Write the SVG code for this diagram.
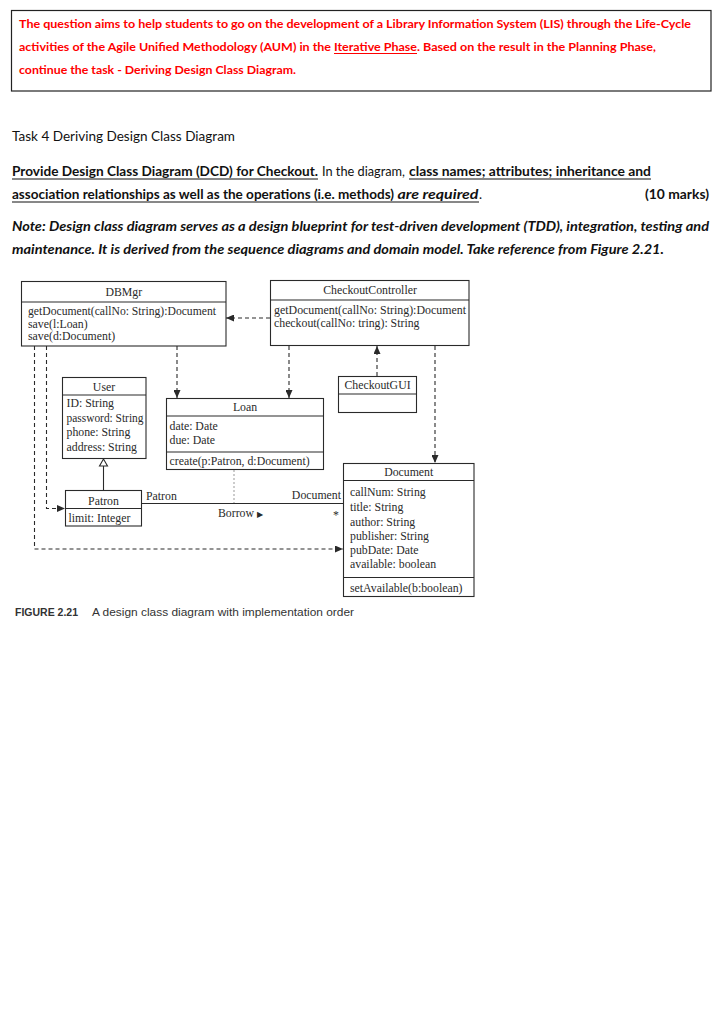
<svg xmlns="http://www.w3.org/2000/svg" width="724" height="1024" viewBox="0 0 724 1024">
<defs>
<marker id="arr" markerWidth="8" markerHeight="7" refX="8" refY="3.5" orient="auto" markerUnits="userSpaceOnUse"><path d="M0,0 L8,3.5 L0,7 z" fill="#2a2a2a"/></marker>
<style>
.red{font-family:Lato,"Liberation Sans",sans-serif;font-weight:bold;font-size:11.5px;fill:#f00}
.body{font-family:Lato,"Liberation Sans",sans-serif;font-size:13px;fill:#111}
.b{font-weight:bold}
.bi{font-weight:bold;font-style:italic}
.cls{font-family:"Liberation Serif","Times New Roman",serif;font-size:11.8px;fill:#2a2a2a}
.cap{font-family:"Liberation Sans",Arial,sans-serif;font-size:11px;fill:#333}
.box{fill:#fff;stroke:#2a2a2a;stroke-width:1.1}
.ln{fill:none;stroke:#2a2a2a;stroke-width:1.1}
.dash{fill:none;stroke:#2a2a2a;stroke-width:1.1;stroke-dasharray:4 3}
.ul{stroke:#111;stroke-width:1}
.ulr{stroke:#f00;stroke-width:1}
</style>
</defs>
<rect width="724" height="1024" fill="#fff"/>

<g id="intro-box">
<rect x="11.5" y="10.5" width="699.5" height="80.5" fill="none" stroke="#222" stroke-width="1.2"/>
<text class="red" x="19" y="27.5" textLength="672" lengthAdjust="spacingAndGlyphs">The question aims to help students to go on the development of a Library Information System (LIS) through the Life-Cycle</text>
<text class="red" x="19" y="50.5" textLength="312" lengthAdjust="spacingAndGlyphs">activities of the Agile Unified Methodology (AUM) in the</text>
<text class="red" x="334" y="50.5" textLength="83" lengthAdjust="spacingAndGlyphs">Iterative Phase</text>
<text class="red" x="417" y="50.5" textLength="239" lengthAdjust="spacingAndGlyphs">. Based on the result in the Planning Phase,</text>
<line class="ulr" x1="334" y1="53.5" x2="417" y2="53.5"/>
<text class="red" x="19" y="74" textLength="277" lengthAdjust="spacingAndGlyphs">continue the task - Deriving Design Class Diagram.</text>
</g>

<g id="task-text">
<text class="body" x="12" y="141" textLength="223" lengthAdjust="spacingAndGlyphs">Task 4 Deriving Design Class Diagram</text>
<text class="body b" x="12" y="176" textLength="306" lengthAdjust="spacingAndGlyphs">Provide Design Class Diagram (DCD) for Checkout.</text>
<line class="ul" x1="12" y1="179" x2="318" y2="179"/>
<text class="body" x="322" y="176" textLength="83" lengthAdjust="spacingAndGlyphs">In the diagram,</text>
<text class="body b" x="409" y="176" textLength="242" lengthAdjust="spacingAndGlyphs">class names; attributes; inheritance and</text>
<line class="ul" x1="409" y1="179" x2="651" y2="179"/>
<text class="body b" x="12" y="199" textLength="382" lengthAdjust="spacingAndGlyphs">association relationships as well as the operations (i.e. methods)</text>
<text class="body bi" x="397.5" y="199" textLength="81" lengthAdjust="spacingAndGlyphs">are required</text>
<line class="ul" x1="12" y1="202" x2="479" y2="202"/>
<text class="body" x="479" y="199">.</text>
<text class="body b" x="645" y="199" textLength="64" lengthAdjust="spacingAndGlyphs">(10 marks)</text>
<text class="body bi" x="12" y="231" textLength="697" lengthAdjust="spacingAndGlyphs">Note: Design class diagram serves as a design blueprint for test-driven development (TDD), integration, testing and</text>
<text class="body bi" x="12" y="254" textLength="652" lengthAdjust="spacingAndGlyphs">maintenance. It is derived from the sequence diagrams and domain model. Take reference from Figure 2.21.</text>
</g>

<g id="connectors">
<path class="dash" d="M34.5,346 V549 H343" marker-end="url(#arr)"/>
<path class="dash" d="M46.5,346 V508.5 H65" marker-end="url(#arr)"/>
<path class="dash" d="M177,346 V398" marker-end="url(#arr)"/>
<path class="dash" d="M289,346 V398" marker-end="url(#arr)"/>
<path class="dash" d="M377,376 V346" marker-end="url(#arr)"/>
<path class="dash" d="M435,346 V463" marker-end="url(#arr)"/>
<path class="dash" d="M270,318 H226" marker-end="url(#arr)"/>
<path class="ln" d="M103.5,466 V490.5"/>
<polygon points="103.5,459 99.5,466 107.5,466" fill="#fff" stroke="#2a2a2a" stroke-width="1.1"/>
<path class="ln" d="M141.5,503.5 H343.5"/>
<path d="M234,470 V503" stroke="#999" stroke-width="1" stroke-dasharray="2 2" fill="none"/>
<text class="cls" x="146" y="499.5">Patron</text>
<text class="cls" x="341" y="499" text-anchor="end">Document</text>
<text class="cls" x="218" y="517">Borrow <tspan font-family="DejaVu Sans" font-size="8">▶</tspan></text>
<text class="cls" x="333" y="519">*</text>
</g>

<g id="node-dbmgr">
<rect class="box" x="21.5" y="281.5" width="204.5" height="64.5"/>
<line class="ln" x1="21.5" y1="302" x2="226" y2="302"/>
<text class="cls" x="123.75" y="296" text-anchor="middle">DBMgr</text>
<text class="cls" x="28" y="315" textLength="188" lengthAdjust="spacingAndGlyphs">getDocument(callNo: String):Document</text>
<text class="cls" x="28" y="327.5">save(l:Loan)</text>
<text class="cls" x="28" y="340">save(d:Document)</text>
</g>

<g id="node-checkoutcontroller">
<rect class="box" x="270.5" y="280.5" width="198.5" height="65"/>
<line class="ln" x1="270.5" y1="300" x2="469" y2="300"/>
<text class="cls" x="370" y="294" text-anchor="middle">CheckoutController</text>
<text class="cls" x="274" y="314" textLength="192" lengthAdjust="spacingAndGlyphs">getDocument(callNo: String):Document</text>
<text class="cls" x="274" y="327">checkout(callNo: tring): String</text>
</g>

<g id="node-user">
<rect class="box" x="62.5" y="377.5" width="83.5" height="81"/>
<line class="ln" x1="62.5" y1="395" x2="146" y2="395"/>
<text class="cls" x="104" y="391" text-anchor="middle">User</text>
<text class="cls" x="66.5" y="407">ID: String</text>
<text class="cls" x="66.5" y="422" textLength="77" lengthAdjust="spacingAndGlyphs">password: String</text>
<text class="cls" x="66.5" y="436">phone: String</text>
<text class="cls" x="66.5" y="450.5">address: String</text>
</g>

<g id="node-loan">
<rect class="box" x="166.5" y="398.5" width="157" height="71"/>
<line class="ln" x1="166.5" y1="416" x2="323.5" y2="416"/>
<line class="ln" x1="166.5" y1="452" x2="323.5" y2="452"/>
<text class="cls" x="245" y="411" text-anchor="middle">Loan</text>
<text class="cls" x="169.5" y="429.5">date: Date</text>
<text class="cls" x="169.5" y="444">due: Date</text>
<text class="cls" x="169.5" y="464.5">create(p:Patron, d:Document)</text>
</g>

<g id="node-checkoutgui">
<rect class="box" x="338.5" y="376.5" width="78" height="36"/>
<line class="ln" x1="338.5" y1="394" x2="416.5" y2="394"/>
<text class="cls" x="377.5" y="389" text-anchor="middle">CheckoutGUI</text>
</g>

<g id="node-document">
<rect class="box" x="343.5" y="463.5" width="130.5" height="133"/>
<line class="ln" x1="343.5" y1="480.5" x2="474" y2="480.5"/>
<line class="ln" x1="343.5" y1="577.5" x2="474" y2="577.5"/>
<text class="cls" x="408.7" y="475.5" text-anchor="middle">Document</text>
<text class="cls" x="350" y="496">callNum: String</text>
<text class="cls" x="350" y="511">title: String</text>
<text class="cls" x="350" y="525.5">author: String</text>
<text class="cls" x="350" y="540">publisher: String</text>
<text class="cls" x="350" y="554">pubDate: Date</text>
<text class="cls" x="350" y="568">available: boolean</text>
<text class="cls" x="350" y="591.5">setAvailable(b:boolean)</text>
</g>

<g id="node-patron">
<rect class="box" x="65.5" y="490.5" width="76" height="35.5"/>
<line class="ln" x1="65.5" y1="508.5" x2="141.5" y2="508.5"/>
<text class="cls" x="103.5" y="505" text-anchor="middle">Patron</text>
<text class="cls" x="68.5" y="522">limit: Integer</text>
</g>

<g id="caption">
<text class="cap" x="15" y="616" font-size="12.5" font-weight="bold" textLength="63" lengthAdjust="spacingAndGlyphs">FIGURE 2.21</text>
<text class="cap" x="92" y="616" textLength="262" lengthAdjust="spacingAndGlyphs">A design class diagram with implementation order</text>
</g>
</svg>
